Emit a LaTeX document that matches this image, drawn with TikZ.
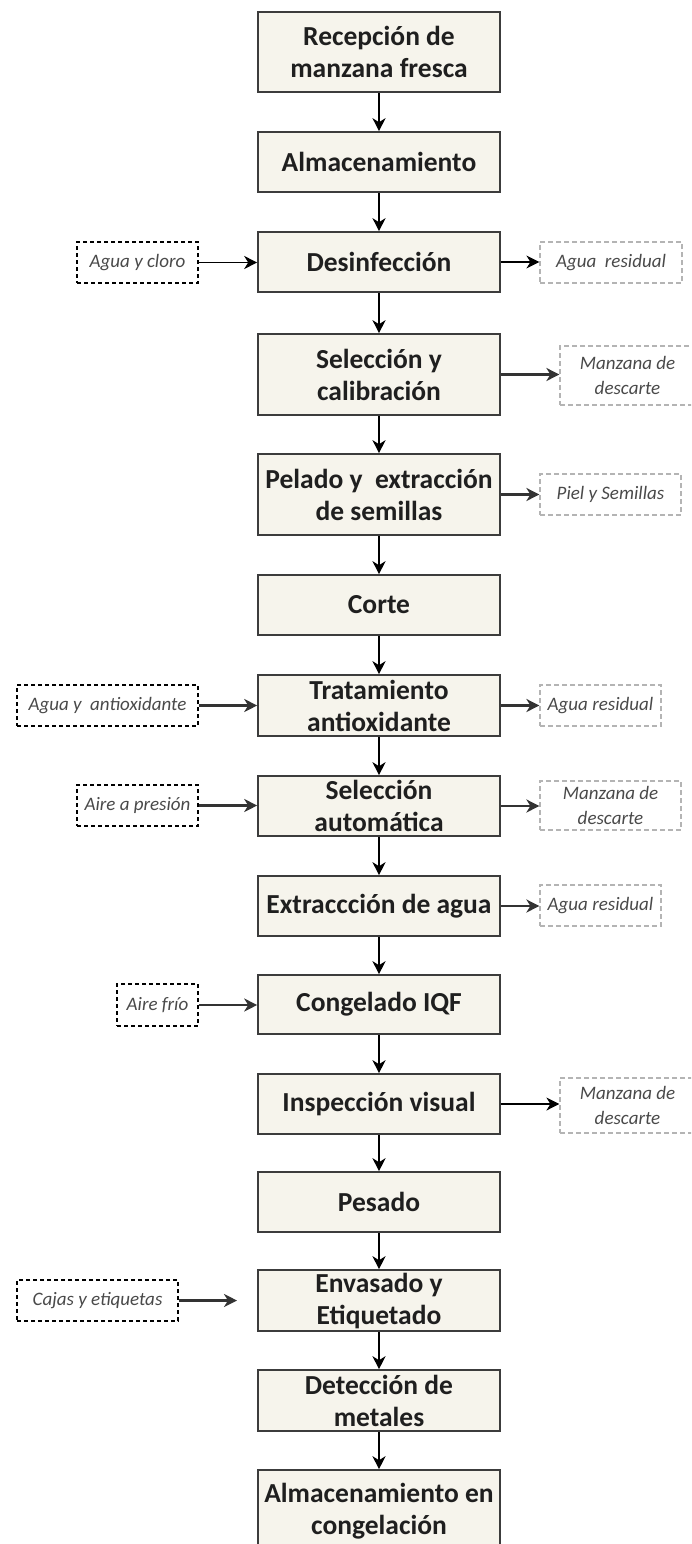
\documentclass[tikz,border=0pt]{standalone}
\usepackage{fontspec}
\setmainfont{Carlito}
\usetikzlibrary{arrows.meta}

\definecolor{boxfill}{HTML}{F6F4EC}
\definecolor{boxline}{HTML}{3C3C3C}
\definecolor{sidetext}{HTML}{4A4A4A}
\definecolor{lightline}{HTML}{B4B4B4}

\tikzset{
  stage/.style={draw=boxline, line width=1.6pt, fill=boxfill, minimum width=242pt,
    inner sep=0pt, align=center, font=\fontsize{27.5}{32}\selectfont\bfseries, text=black!88},
  inbox/.style={draw=black, dash pattern=on 4pt off 3pt, line width=1.5pt, inner sep=0pt,
    align=center, font=\fontsize{19}{25}\selectfont\itshape, text=sidetext},
  outbox/.style={draw=lightline, dash pattern=on 5pt off 3pt, line width=1.2pt, inner sep=0pt,
    align=center, font=\fontsize{19}{25}\selectfont\itshape, text=sidetext},
  flow/.style={-{Stealth[length=13pt,width=13pt,inset=4pt]}, line width=1.6pt},
  heavyflow/.style={flow, line width=2.6pt, draw=black!80, fill=black},
}

\begin{document}
\begin{tikzpicture}[x=1pt,y=-1pt]
  \useasboundingbox (0,0) rectangle (691,1544);
  \fill[white] (0,0) rectangle (691,1544);
  \clip (0,0) rectangle (691,1544);

  % main process steps
  \node[stage, minimum height=80pt] (s1)  at (379,52)     {Recepción de\\manzana fresca};
  \node[stage, minimum height=60pt] (s2)  at (379,162)    {Almacenamiento};
  \node[stage, minimum height=60pt] (s3)  at (379,262)    {Desinfección};
  \node[stage, minimum height=81pt] (s4)  at (379,374.5)  {Selección y\\calibración};
  \node[stage, minimum height=81pt] (s5)  at (379,494.5)  {Pelado y\ \ extracción\\de semillas};
  \node[stage, minimum height=60pt] (s6)  at (379,605)    {Corte};
  \node[stage, minimum height=61pt] (s7)  at (379,705.5)  {Tratamiento\\antioxidante};
  \node[stage, minimum height=60pt] (s8)  at (379,806)    {Selección\\automática};
  \node[stage, minimum height=60pt] (s9)  at (379,906)    {Extracc\-ción de agua};
  \node[stage, minimum height=59pt] (s10) at (379,1004.5) {Congelado IQF};
  \node[stage, minimum height=60pt] (s11) at (379,1104)   {Inspección visual};
  \node[stage, minimum height=60pt] (s12) at (379,1202)   {Pesado};
  \node[stage, minimum height=61pt] (s13) at (379,1300.5) {Envasado y\\Etiquetado};
  \node[stage, minimum height=61pt] (s14) at (379,1400.5) {Detección de\\metales};
  \node[stage, minimum height=82pt] (s15) at (379,1511)   {Almacenamiento en\\congelación};

  % main flow
  \foreach \a/\b in {s1/s2, s2/s3, s3/s4, s4/s5, s5/s6, s6/s7, s7/s8, s8/s9,
                     s9/s10, s10/s11, s11/s12, s12/s13, s13/s14, s14/s15}
    \draw[flow] (\a) -- (\b);

  % inputs
  \node[inbox, minimum width=121pt, minimum height=41pt] (i3)  at (137.5,262.5)  {Agua y cloro};
  \node[inbox, minimum width=181pt, minimum height=41pt] (i7)  at (107.5,705.5)  {Agua y\ \ antioxidante};
  \node[inbox, minimum width=121pt, minimum height=41pt] (i8)  at (137.5,805.5)  {Aire a presión};
  \node[inbox, minimum width=81pt,  minimum height=42pt] (i10) at (157.5,1005)   {Aire frío};
  \node[inbox, minimum width=161pt, minimum height=41pt] (i13) at (97.5,1300.5)  {Cajas y etiquetas};
  \coordinate (e13) at (237,1300.5);

  % outputs
  \node[outbox, minimum width=142pt, minimum height=41pt] (o3)  at (611,262.5)   {Agua\ \ residual};
  \node[outbox, minimum width=135pt, minimum height=59pt] (o4)  at (627.5,375.5) {Manzana de\\descarte};
  \node[outbox, minimum width=141pt, minimum height=41pt] (o5)  at (610.5,494.5) {Piel y Semillas};
  \node[outbox, minimum width=121pt, minimum height=41pt] (o7)  at (600.5,705.5) {Agua residual};
  \node[outbox, minimum width=141pt, minimum height=49pt] (o8)  at (610.5,805.5) {Manzana de\\descarte};
  \node[outbox, minimum width=121pt, minimum height=41pt] (o9)  at (600.5,905.5) {Agua residual};
  \node[outbox, minimum width=135pt, minimum height=55pt] (o11) at (627.5,1105.5){Manzana de\\descarte};

  % input arrows
  \draw[flow]      (i3.east)  -- (i3.east -| s3.west);
  \draw[heavyflow] (i7.east)  -- (i7.east -| s7.west);
  \draw[heavyflow] (i8.east)  -- (i8.east -| s8.west);
  \draw[heavyflow] (i10.east) -- (i10.east -| s10.west);
  \draw[heavyflow] (i13.east) -- (e13);

  % output arrows
  \draw[flow]      (s3.east)  -- (s3.east -| o3.west);
  \draw[heavyflow] (s4.east)  -- (s4.east -| o4.west);
  \draw[heavyflow] (s5.east)  -- (s5.east -| o5.west);
  \draw[heavyflow] (s7.east)  -- (s7.east -| o7.west);
  \draw[heavyflow] (s8.east)  -- (s8.east -| o8.west);
  \draw[heavyflow] (s9.east)  -- (s9.east -| o9.west);
  \draw[flow]      (s11.east) -- (s11.east -| o11.west);
\end{tikzpicture}
\end{document}
